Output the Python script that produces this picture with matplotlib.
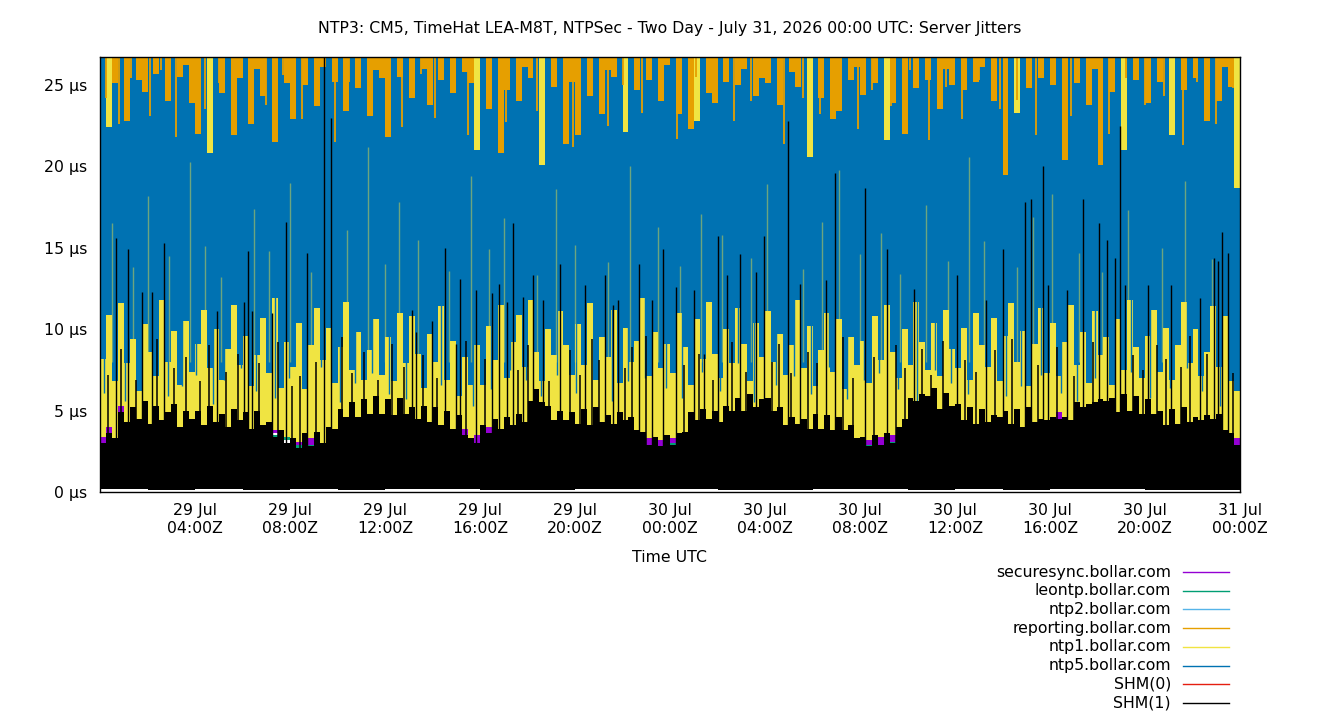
import numpy as np
import matplotlib
matplotlib.use("Agg")
import matplotlib.pyplot as plt
from matplotlib.lines import Line2D

plt.rcParams['font.family'] = ['DejaVu Sans']
FS = 11.3

title = "NTP3: CM5, TimeHat LEA-M8T, NTPSec - Two Day - July 31, 2026 00:00 UTC: Server Jitters"

# hours since 29 Jul 00:00Z
tick_hours = [4, 8, 12, 16, 20, 24, 28, 32, 36, 40, 44, 48]
tick_labels = ["29 Jul\n04:00Z", "29 Jul\n08:00Z", "29 Jul\n12:00Z", "29 Jul\n16:00Z",
               "29 Jul\n20:00Z", "30 Jul\n00:00Z", "30 Jul\n04:00Z", "30 Jul\n08:00Z",
               "30 Jul\n12:00Z", "30 Jul\n16:00Z", "30 Jul\n20:00Z", "31 Jul\n00:00Z"]
y_ticks = [0, 5, 10, 15, 20, 25]

labels = ["securesync.bollar.com", "leontp.bollar.com", "ntp2.bollar.com",
          "reporting.bollar.com", "ntp1.bollar.com", "ntp5.bollar.com", "SHM(0)", "SHM(1)"]
colors = ["#9400d3", "#009e73", "#56b4e9", "#e69f00", "#f0e442", "#0072b2", "#e51e10", "#000000"]

# jitter envelopes (µs), 15 minute bins, 16 per row = 4 hours
ntp5_hi = [
    30, 22.4, 25.1, 30, 22.8, 30, 25.3, 24.6, 30, 25.7, 30, 24.0, 30, 25.5, 26.2, 23.9,
    22.0, 30, 20.8, 30, 24.5, 30, 21.9, 25.4, 30, 22.6, 26.0, 24.3, 30, 21.5, 30, 25.1,
    22.9, 30, 25.0, 30, 23.7, 26.1, 30, 25.2, 30, 23.4, 30, 24.8, 30, 23.1, 25.9, 25.4,
    21.8, 30, 25.5, 30, 24.2, 30, 26.0, 23.8, 30, 25.3, 30, 24.5, 30, 25.8, 25.1, 21.0,
    30, 23.5, 30, 20.8, 24.7, 30, 24.0, 26.1, 25.4, 30, 20.1, 30, 24.9, 30, 21.4, 25.2,
    21.9, 30, 24.3, 30, 23.2, 25.9, 25.5, 30, 22.1, 30, 24.7, 30, 25.3, 30, 24.0, 26.2,
    30, 23.2, 30, 22.3, 22.8, 30, 24.5, 23.9, 30, 25.2, 30, 25.0, 26.0, 30, 24.3, 25.4,
    25.1, 30, 23.8, 30, 25.8, 24.9, 30, 20.6, 30, 24.2, 30, 22.9, 23.4, 30, 25.3, 26.1,
    24.4, 30, 25.1, 30, 21.6, 23.9, 30, 22.0, 30, 24.8, 30, 25.3, 30, 23.5, 26.0, 25.0,
    30, 24.7, 30, 25.2, 26.1, 30, 24.0, 30, 19.5, 30, 23.3, 30, 24.8, 30, 25.4, 30,
    25.0, 30, 20.4, 30, 25.1, 30, 23.8, 26.0, 20.1, 30, 24.6, 30, 21.0, 30, 25.3, 30,
    23.9, 30, 25.2, 30, 21.9, 30, 24.7, 30, 25.4, 30, 22.8, 30, 24.0, 26.1, 24.9, 18.7,
]
ntp5_lo = [
    8.2, 10.9, 6.8, 11.6, 7.9, 9.4, 6.2, 10.3, 8.6, 7.1, 11.8, 8.0, 9.9, 6.6, 10.5, 7.4,
    9.1, 11.2, 7.6, 10.0, 6.9, 8.8, 11.5, 7.8, 9.6, 6.5, 8.4, 10.7, 7.3, 11.9, 6.4, 9.2,
    7.7, 10.4, 6.3, 9.0, 11.3, 8.1, 10.1, 6.7, 8.9, 11.7, 7.5, 9.8, 6.9, 8.7, 10.6, 7.2,
    9.5, 6.8, 11.0, 7.9, 10.8, 8.5, 6.4, 9.7, 8.0, 11.4, 6.9, 9.3, 5.9, 8.3, 6.6, 9.0,
    6.6, 10.2, 8.1, 11.5, 7.0, 9.2, 10.9, 7.7, 11.8, 8.6, 6.8, 10.0, 8.4, 11.1, 9.0, 7.2,
    10.3, 7.8, 11.6, 6.9, 9.5, 8.3, 11.2, 6.7, 10.1, 8.0, 9.3, 11.9, 7.1, 9.8, 7.6, 9.1,
    7.3, 11.0, 8.9, 6.6, 10.6, 8.2, 11.7, 8.5, 7.0, 10.0, 7.9, 11.3, 9.1, 6.8, 10.4, 8.3,
    11.1, 8.0, 9.7, 7.2, 9.0, 11.8, 7.6, 10.2, 6.5, 8.7, 11.0, 7.4, 10.6, 6.3, 9.5, 7.8,
    9.3, 6.7, 10.8, 8.1, 11.5, 8.6, 7.0, 10.0, 7.8, 11.7, 9.2, 7.5, 10.4, 7.1, 11.2, 8.8,
    7.6, 10.1, 6.9, 11.0, 9.0, 7.7, 10.7, 6.8, 9.6, 11.6, 8.0, 9.9, 6.5, 9.1, 11.3, 7.3,
    10.4, 7.1, 9.2, 11.5, 7.8, 9.8, 6.7, 11.1, 8.4, 9.5, 6.6, 10.6, 7.5, 11.8, 8.9, 7.0,
    9.6, 11.2, 7.4, 10.1, 6.9, 9.0, 11.7, 7.9, 10.0, 7.1, 8.6, 11.4, 7.7, 10.8, 6.8, 6.2,
]
ntp1_hi = [
    13.4, 30, 13.8, 14.2, 13.1, 14.6, 13.5, 14.0, 13.3, 14.4, 13.7, 13.2, 14.1, 13.6, 14.5, 13.9,
    13.5, 14.3, 30, 13.8, 14.0, 13.2, 14.7, 13.6, 13.9, 14.2, 13.4, 14.5, 13.1, 14.0, 13.7, 14.3,
    13.8, 13.3, 14.1, 13.9, 14.6, 13.5, 13.2, 14.4, 13.7, 14.0, 13.6, 14.2, 13.4, 14.5, 13.8, 13.3,
    14.1, 13.6, 14.3, 13.2, 14.0, 13.9, 14.5, 13.4, 13.8, 14.2, 13.5, 14.7, 13.3, 14.0, 13.6, 30,
    13.7, 14.1, 13.4, 14.4, 13.9, 13.2, 14.6, 13.5, 14.0, 13.8, 30, 14.3, 13.1, 14.2, 13.6, 13.9,
    14.0, 13.5, 14.3, 13.7, 14.1, 13.4, 14.5, 13.8, 30, 13.3, 14.2, 13.9, 13.6, 14.4, 13.2, 14.0,
    13.6, 14.2, 13.3, 14.0, 30, 13.8, 14.4, 13.5, 14.1, 13.9, 13.2, 14.6, 13.7, 14.3, 13.4, 14.0,
    14.3, 13.6, 14.0, 13.5, 14.4, 13.9, 13.2, 30, 13.7, 14.1, 13.8, 14.5, 13.4, 14.2, 13.6, 13.9,
    13.9, 14.2, 13.5, 14.1, 30, 13.6, 14.3, 13.8, 14.0, 13.3, 14.5, 13.7, 14.2, 13.4, 14.0, 13.8,
    13.7, 14.0, 13.4, 14.3, 13.9, 13.5, 14.1, 13.8, 14.6, 13.2, 30, 13.6, 14.4, 13.9, 13.3, 14.2,
    14.0, 13.5, 14.2, 13.8, 13.4, 14.5, 13.6, 14.1, 13.9, 13.3, 14.4, 13.7, 30, 14.0, 13.5, 14.3,
    13.8, 14.1, 13.6, 14.4, 30, 13.5, 14.2, 13.9, 13.3, 14.0, 13.7, 14.5, 13.4, 14.1, 13.8, 30,
]
ntp1_lo = [
    3.4, 4.0, 3.1, 5.3, 3.9, 4.6, 4.1, 4.8, 3.8, 4.7, 4.0, 4.2, 4.6, 3.7, 4.4, 4.0,
    4.4, 3.8, 4.6, 3.9, 4.2, 3.7, 4.5, 4.0, 4.3, 3.6, 4.4, 3.8, 3.9, 3.8, 3.5, 3.4,
    3.0, 3.1, 3.2, 3.3, 3.4, 2.8, 3.7, 3.6, 4.5, 4.2, 4.8, 4.3, 5.0, 4.4, 5.1, 4.5,
    5.0, 4.4, 5.1, 4.4, 4.7, 4.2, 4.8, 4.0, 4.6, 3.8, 4.5, 3.7, 4.2, 3.9, 3.1, 3.5,
    3.8, 4.0, 4.1, 3.6, 4.2, 3.8, 4.4, 4.0, 5.0, 5.6, 5.1, 4.8, 4.1, 4.6, 4.1, 4.5,
    3.9, 4.6, 3.8, 4.7, 4.0, 4.3, 3.9, 4.5, 4.1, 4.2, 3.5, 3.4, 3.3, 3.1, 3.2, 3.2,
    3.3, 3.3, 3.4, 4.5, 4.1, 4.7, 4.2, 4.6, 4.0, 4.8, 4.6, 5.2, 4.7, 5.4, 4.8, 5.2,
    5.2, 4.6, 4.8, 3.8, 4.2, 3.9, 4.1, 3.6, 4.4, 3.7, 4.3, 3.5, 4.2, 3.5, 3.8, 3.1,
    3.1, 3.2, 3.2, 3.4, 3.3, 3.5, 3.7, 4.2, 5.2, 5.1, 5.5, 5.3, 5.8, 4.8, 5.5, 4.9,
    4.8, 4.1, 4.7, 3.9, 4.6, 4.0, 4.3, 4.2, 4.6, 3.9, 4.6, 3.7, 4.7, 4.0, 4.2, 4.1,
    4.2, 4.9, 4.3, 4.1, 5.0, 4.8, 5.0, 5.1, 5.2, 5.1, 5.3, 4.6, 5.5, 4.7, 5.4, 4.5,
    5.2, 4.5, 4.6, 3.8, 4.7, 3.9, 4.8, 4.0, 4.3, 4.1, 4.4, 4.2, 4.4, 3.5, 3.4, 3.3,
]
shm1_hi = [
    3.0, 3.6, 3.3, 4.9, 4.3, 5.2, 4.5, 5.6, 4.2, 5.3, 4.4, 4.9, 5.4, 4.0, 5.0, 4.5,
    5.0, 4.1, 5.3, 4.3, 4.8, 4.0, 5.1, 4.4, 4.9, 3.9, 5.0, 4.1, 4.3, 3.4, 3.8, 3.0,
    3.3, 2.7, 3.6, 2.8, 3.7, 3.0, 4.0, 3.9, 5.1, 4.6, 5.5, 4.6, 5.7, 4.8, 5.9, 4.8,
    5.7, 4.7, 5.8, 4.8, 5.2, 4.5, 5.3, 4.3, 5.2, 4.1, 5.0, 3.9, 4.7, 3.5, 3.3, 3.0,
    4.1, 3.6, 4.5, 3.9, 4.6, 4.1, 4.8, 4.3, 5.6, 6.3, 5.5, 5.3, 4.4, 5.0, 4.4, 4.9,
    4.2, 5.1, 4.1, 5.2, 4.3, 4.7, 4.2, 4.9, 4.4, 4.6, 3.8, 3.7, 2.9, 3.4, 2.8, 3.5,
    2.9, 3.6, 3.7, 4.9, 4.4, 5.1, 4.5, 5.0, 4.3, 5.3, 5.0, 5.8, 5.0, 6.0, 5.2, 5.7,
    5.8, 5.0, 5.2, 4.1, 4.6, 4.2, 4.5, 3.9, 4.8, 3.9, 4.7, 3.8, 4.6, 3.8, 4.1, 3.3,
    3.4, 2.8, 3.5, 2.9, 3.6, 3.0, 4.0, 4.5, 5.8, 5.6, 6.0, 5.9, 6.4, 5.1, 6.1, 5.3,
    5.4, 4.4, 5.2, 4.2, 5.1, 4.3, 4.7, 4.6, 5.0, 4.2, 5.1, 4.0, 5.2, 4.3, 4.5, 4.4,
    4.6, 4.5, 4.6, 4.4, 5.5, 5.2, 5.4, 5.5, 5.7, 5.6, 5.8, 4.9, 6.0, 5.0, 5.9, 4.8,
    5.7, 4.8, 5.0, 4.1, 5.1, 4.2, 5.2, 4.3, 4.6, 4.4, 4.7, 4.5, 4.8, 3.8, 3.6, 2.9,
]
# 2 hour bins
shm1_lo = [0.16, 0.14, 0.18, 0.15, 0.17, 0.13, 0.16, 0.19, 0.15, 0.14, 0.17, 0.16,
           0.18, 0.15, 0.13, 0.17, 0.16, 0.14, 0.18, 0.15, 0.16, 0.17, 0.14, 0.15]

# 1 hour bins
rep_hi = [31, 29.5, 33, 28.4, 30.2, 34, 29.1, 31.5, 28.8, 32.6, 30.4, 29.7,
          33.8, 28.6, 31.2, 30.0, 29.3, 32.1, 28.9, 30.8, 34.5, 29.6, 31.7, 28.5,
          30.6, 33.2, 29.0, 31.9, 28.7, 30.3, 32.8, 29.4, 31.1, 28.3, 30.9, 33.5,
          29.8, 31.4, 28.9, 32.3, 30.1, 29.2, 33.0, 28.6, 31.6, 30.5, 29.9, 32.4]
rep_lo = [16.2, 17.8, 15.4, 18.3, 16.9, 15.1, 17.4, 18.6, 16.0, 17.1, 15.7, 18.0,
          16.5, 17.6, 15.2, 16.8, 18.2, 15.9, 17.3, 16.4, 15.0, 17.9, 16.6, 18.4,
          15.6, 17.0, 16.1, 18.1, 15.8, 17.5, 16.3, 15.3, 17.7, 16.7, 18.5, 15.5,
          17.2, 16.0, 18.8, 15.9, 17.4, 16.2, 15.4, 17.6, 16.9, 18.2, 15.7, 17.0]
securesync_lo = [2.6, 2.9, 3.3, 3.8, 3.5, 3.2, 3.9, 3.6, 2.7, 3.1, 3.4, 3.7,
                 3.5, 3.9, 3.3, 2.8, 3.4, 3.6, 3.8, 3.3, 3.5, 3.2, 2.9, 2.8,
                 3.0, 3.6, 3.4, 3.8, 3.7, 3.5, 3.3, 3.6, 2.9, 3.1, 3.7, 3.5,
                 3.4, 3.8, 3.6, 3.2, 3.5, 3.7, 3.3, 3.6, 3.4, 3.5, 3.1, 2.9]
securesync_hi = [6.4, 6.1, 6.8, 6.3, 6.6, 6.0, 6.9, 6.2, 6.5, 6.7, 6.1, 6.4,
                 6.8, 6.3, 6.0, 6.6, 6.2, 6.9, 6.4, 6.1, 6.7, 6.5, 6.3, 6.0,
                 6.6, 6.2, 6.8, 6.4, 6.1, 6.7, 6.3, 6.9, 6.5, 6.0, 6.6, 6.2,
                 6.8, 6.4, 6.1, 6.7, 6.3, 6.5, 6.0, 6.6, 6.2, 6.8, 6.4, 6.1]
leontp_lo = [2.5, 2.8, 3.0, 3.4, 3.1, 2.9, 3.5, 3.2, 2.6, 2.8, 3.1, 3.3,
             3.2, 3.6, 3.0, 2.7, 3.1, 3.3, 3.4, 3.0, 3.2, 2.9, 2.6, 2.5,
             2.7, 3.2, 3.1, 3.5, 3.3, 3.1, 3.0, 3.2, 2.6, 2.8, 3.3, 3.1,
             3.0, 3.4, 3.2, 2.9, 3.1, 3.3, 3.0, 3.2, 3.1, 3.2, 2.8, 2.6]
leontp_hi = [2.9, 3.1, 3.3, 3.7, 3.4, 3.2, 3.8, 3.5, 2.9, 3.1, 3.4, 3.6,
             3.5, 3.9, 3.3, 3.0, 3.4, 3.6, 3.7, 3.3, 3.5, 3.2, 2.9, 2.8,
             3.0, 3.5, 3.4, 3.8, 3.6, 3.4, 3.3, 3.5, 2.9, 3.1, 3.6, 3.4,
             3.3, 3.7, 3.5, 3.2, 3.4, 3.6, 3.3, 3.5, 3.4, 3.5, 3.1, 2.9]
ntp2_lo = [5.8, 6.2, 5.6, 6.4, 6.0, 5.7, 6.3, 5.9, 6.1, 5.5, 6.2, 5.8,
           6.0, 6.4, 5.7, 6.1, 5.9, 6.3, 5.6, 6.0, 6.2, 5.8, 6.4, 5.7,
           6.1, 5.9, 6.3, 5.6, 6.0, 6.2, 5.8, 6.4, 5.5, 6.1, 5.9, 6.3,
           5.7, 6.0, 6.2, 5.8, 6.4, 5.6, 6.1, 5.9, 6.3, 5.7, 6.0, 6.2]
ntp2_hi = [7.6, 8.1, 7.3, 8.4, 7.8, 7.5, 8.2, 7.7, 8.0, 7.2, 8.3, 7.6,
           7.9, 8.5, 7.4, 8.0, 7.7, 8.2, 7.3, 7.9, 8.1, 7.6, 8.4, 7.5,
           8.0, 7.8, 8.3, 7.4, 7.9, 8.1, 7.7, 8.5, 7.2, 8.0, 7.8, 8.2,
           7.5, 7.9, 8.1, 7.6, 8.4, 7.3, 8.0, 7.8, 8.3, 7.5, 7.9, 8.1]

# SHM(1) spikes: hour, peak µs
spike_t = [0.67, 1.18, 1.77, 2.19, 2.69, 4.93, 6.06, 6.23, 6.40, 7.24, 7.83, 8.72, 9.43, 9.73,
           13.14, 13.31, 13.98, 14.53, 14.99, 15.16, 15.83, 16.51, 16.80, 17.14, 17.39, 17.81,
           18.23, 18.65, 19.37, 20.42, 21.26, 21.60, 21.81, 22.69, 23.24, 23.71, 24.25, 25.01,
           25.43, 26.02, 26.40, 26.95, 27.62, 27.96, 28.97, 29.47, 30.57, 30.95, 32.21, 33.14,
           34.27, 36.08, 37.31, 38.02, 38.95, 39.20, 39.71, 39.92, 40.72, 41.39, 42.06, 42.40,
           42.74, 42.95, 43.16, 44.13, 45.09, 46.32, 46.91, 47.07, 47.24, 47.49]
spike_v = [15.6, 14.9, 12.3, 12.3, 15.3, 11.1, 11.7, 14.8, 11.1, 11.0, 16.6, 14.7, 28.0, 23.0,
           11.2, 9.8, 10.5, 15.0, 9.1, 13.1, 12.4, 12.2, 12.8, 11.7, 16.5, 12.0,
           13.3, 11.8, 14.0, 12.7, 13.3, 11.5, 11.8, 14.0, 11.8, 14.9, 12.6, 12.4,
           8.5, 15.7, 13.3, 14.6, 13.5, 15.7, 22.8, 12.8, 13.0, 19.6, 18.7, 14.9,
           12.5, 13.3, 11.8, 14.9, 17.8, 18.0, 20.0, 12.7, 12.4, 18.0, 16.5, 15.5,
           14.4, 22.5, 12.7, 12.7, 12.7, 11.9, 14.4, 14.2, 16.0, 14.7]
# shorter SHM(1) excursions into the ntp1 band
short_t = [0.35, 0.9, 1.5, 2.4, 3.1, 3.6, 4.2, 4.6, 5.3, 5.8, 6.7, 7.5, 8.1, 8.4, 9.1, 10.2,
           10.6, 11.1, 11.7, 12.3, 12.8, 13.6, 14.2, 15.4, 16.2, 17.6, 18.0, 18.9, 19.8, 20.2,
           20.7, 21.0, 22.1, 22.4, 23.0, 24.6, 25.2, 25.8, 26.6, 27.2, 28.3, 28.6, 29.1, 29.8,
           30.2, 31.3, 31.7, 32.6, 33.5, 33.9, 34.6, 35.0, 35.5, 36.4, 36.9, 37.7, 38.4, 39.5,
           40.3, 41.0, 41.8, 43.5, 43.9, 44.5, 44.9, 45.5, 45.9, 46.6, 47.7]
short_v = [7.2, 8.8, 6.9, 9.4, 7.6, 8.3, 6.8, 9.0, 7.4, 8.5, 7.9, 9.2, 6.5, 7.1, 8.0, 9.5,
           7.3, 8.6, 6.9, 9.1, 7.7, 8.4, 7.0, 9.3, 8.2, 7.5, 9.0, 6.8, 8.7, 7.2,
           9.4, 8.1, 7.6, 8.9, 9.6, 7.8, 8.5, 6.9, 9.2, 7.4, 8.0, 9.1, 7.3, 8.6,
           7.9, 9.5, 7.0, 8.3, 9.0, 7.6, 8.8, 7.2, 9.3, 8.1, 7.4, 8.7, 9.4, 7.8,
           8.9, 7.1, 9.2, 8.4, 7.5, 9.0, 8.2, 7.7, 9.6, 8.5, 7.3]
# low ntp5 samples dipping into the ntp1 band: hour, lowest µs
ntp5_dip_t = [0.15, 0.6, 1.05, 1.65, 2.3, 2.85, 3.45, 4.05, 4.75, 5.2, 5.95, 6.55, 7.35, 7.95,
              8.6, 9.3, 10.1, 10.75, 11.45, 12.15, 12.9, 13.55, 14.35, 15.05, 15.7, 16.45,
              17.25, 17.95, 18.55, 19.25, 20.05, 20.85, 21.55, 22.25, 22.95, 23.85, 24.5,
              25.35, 26.1, 26.85, 27.55, 28.45, 29.2, 29.95, 30.7, 31.45, 32.15, 32.8, 33.6,
              34.4, 35.15, 35.85, 36.55, 37.45, 38.15, 38.8, 39.6, 40.45, 41.15, 41.9, 42.6,
              43.4, 44.2, 45.05, 45.75, 46.4, 47.15, 47.85]
ntp5_dip_v = [6.1, 7.4, 5.6, 6.8, 7.9, 5.9, 6.5, 7.2, 5.4, 6.9, 7.6, 6.2, 5.8, 7.0, 6.4, 7.7,
              5.5, 6.7, 7.3, 6.0, 5.7, 7.1, 6.6, 7.8, 5.3, 6.3, 7.5, 6.9, 5.9, 7.2, 6.1, 7.6,
              5.6, 6.8, 7.0, 6.4, 5.8, 7.4, 6.2, 7.9, 5.5, 6.6, 7.1, 6.0, 7.7, 5.7, 6.9, 7.3,
              6.3, 5.4, 7.5, 6.7, 6.0, 7.8, 5.9, 6.5, 7.2, 6.1, 5.6, 7.0, 6.8, 7.4, 5.8, 6.4,
              7.6, 6.2, 5.3, 6.9]
# reporting seen between ntp5 samples near the top: hour, lowest µs reached
rep_gap_t = [0.25, 0.8, 1.3, 2.1, 2.55, 3.2, 3.9, 4.4, 5.0, 5.7, 6.3, 7.0, 7.7, 8.5, 9.2,
             9.9, 10.5, 11.3, 12.1, 12.7, 13.5, 14.1, 14.8, 15.5, 16.3, 17.1, 17.7, 18.4,
             19.1, 19.9, 20.6, 21.4, 22.0, 22.8, 23.6, 24.3, 25.1, 25.9, 26.7, 27.4, 28.2,
             28.8, 29.6, 30.3, 31.0, 31.9, 32.5, 33.3, 34.1, 34.9, 35.6, 36.3, 37.0, 37.9,
             38.6, 39.4, 40.2, 40.9, 41.6, 42.5, 43.2, 44.0, 44.8, 45.6, 46.2, 47.0, 47.7]
rep_gap_v = [24.2, 22.6, 25.4, 23.1, 25.9, 21.8, 24.7, 23.5, 25.1, 22.2, 24.9, 23.8, 25.6, 22.9,
             24.3, 21.5, 25.2, 23.6, 24.8, 22.4, 25.7, 23.0, 24.5, 21.9, 25.3, 22.7, 24.1, 23.4,
             25.8, 21.2, 24.6, 22.5, 25.0, 23.3, 24.4, 21.7, 25.5, 23.9, 22.8, 24.0, 25.6, 21.4,
             24.2, 23.2, 25.1, 22.3, 24.7, 23.7, 25.9, 21.6, 24.9, 22.9, 25.3, 23.5, 24.1, 21.9,
             25.7, 23.1, 24.6, 22.0, 25.4, 23.8, 24.3, 21.3, 25.2, 22.6, 24.8]
# ntp1 seen between ntp5 samples: hour, highest µs reached
ntp1_gap_t = [0.5, 1.4, 2.0, 2.9, 3.8, 4.4, 5.1, 6.5, 7.1, 8.0, 8.9, 10.4, 11.3, 12.0, 12.6,
              13.4, 14.7, 15.6, 16.4, 17.0, 18.4, 19.2, 20.0, 21.4, 22.3, 23.5, 24.4, 25.3,
              26.2, 27.4, 28.1, 29.6, 30.4, 31.1, 32.0, 32.9, 33.7, 34.8, 35.7, 36.6, 37.2,
              38.6, 39.3, 40.1, 41.2, 42.2, 43.3, 44.7, 45.7, 46.8]
ntp1_gap_v = [16.5, 13.8, 18.2, 14.5, 20.3, 15.1, 13.2, 17.4, 14.8, 19.0, 13.5, 16.1, 21.2,
              14.0, 17.8, 15.5, 13.6, 19.4, 14.9, 16.8, 13.3, 18.6, 15.2, 14.1, 20.0, 16.3,
              13.9, 17.1, 15.8, 14.4, 18.9, 13.7, 16.6, 19.8, 14.6, 15.9, 13.4, 17.6, 14.2,
              20.6, 15.4, 13.8, 16.9, 18.3, 14.7, 13.5, 17.3, 15.0, 19.1, 14.3]


def band(ax, lo, hi, color, z):
    # each value covers its own time bin across the 48 h window
    edges = np.linspace(0, 48, len(lo) + 1)
    ax.fill_between(edges, list(lo) + [lo[-1]], list(hi) + [hi[-1]], step='post',
                    color=color, lw=0, zorder=z)


fig = plt.figure(figsize=(13.4, 7.2), dpi=100)
ax = fig.add_axes([100 / 1340, 1 - 492 / 720, 1140 / 1340, 435 / 720])

band(ax, securesync_lo, securesync_hi, colors[0], 1)
band(ax, leontp_lo, leontp_hi, colors[1], 2)
band(ax, ntp2_lo, ntp2_hi, colors[2], 3)
band(ax, rep_lo, rep_hi, colors[3], 4)
band(ax, ntp1_lo, ntp1_hi, colors[4], 5)
band(ax, ntp5_lo, ntp5_hi, colors[5], 6)
ax.vlines(ntp5_dip_t, ntp5_dip_v, 12.5, color=colors[5], lw=1.0, zorder=6.2)
ax.vlines(ntp1_gap_t, 8.0, ntp1_gap_v, color=colors[4], lw=1.0, alpha=0.45, zorder=6.5)
ax.vlines(rep_gap_t, rep_gap_v, 28, color=colors[3], lw=1.3, zorder=6.6)
# SHM(1): floor from the 2 h bins, top from the 15 min bins, both meet at 1 µs
band(ax, shm1_lo, [1.0] * len(shm1_lo), colors[7], 8)
band(ax, [1.0] * len(shm1_hi), shm1_hi, colors[7], 8)
ax.vlines(short_t, 1.0, short_v, color=colors[7], lw=1.1, zorder=9)
ax.vlines(spike_t, 1.0, spike_v, color=colors[7], lw=1.0, zorder=9)

ax.set_xlim(0, 48)
ax.set_ylim(0, 26.72)
ax.set_xticks(tick_hours)
ax.set_xticklabels(tick_labels, fontsize=FS)
ax.set_yticks(y_ticks)
ax.set_yticklabels([f"{v} µs" for v in y_ticks], fontsize=FS)
ax.tick_params(axis='both', length=0)
ax.tick_params(axis='x', pad=8)
ax.tick_params(axis='y', pad=9)
for s in ax.spines.values():
    s.set_linewidth(1.0)
    s.set_zorder(20)

fig.text(0.5, 1 - 29 / 720, title, ha='center', va='center', fontsize=FS)
fig.text(670 / 1340, 1 - 557 / 720, "Time UTC", ha='center', va='center', fontsize=FS)

# key below the plot, text right-aligned next to its line sample
for i, (lab, col) in enumerate(zip(labels, colors)):
    yy = 1 - (572 + i * 18.7) / 720
    fig.text(1171 / 1340, yy, lab, ha='right', va='center', fontsize=FS)
    fig.add_artist(Line2D([1183 / 1340, 1229 / 1340], [yy, yy], color=col, lw=1.0))

fig.savefig("out.png", dpi=100)
